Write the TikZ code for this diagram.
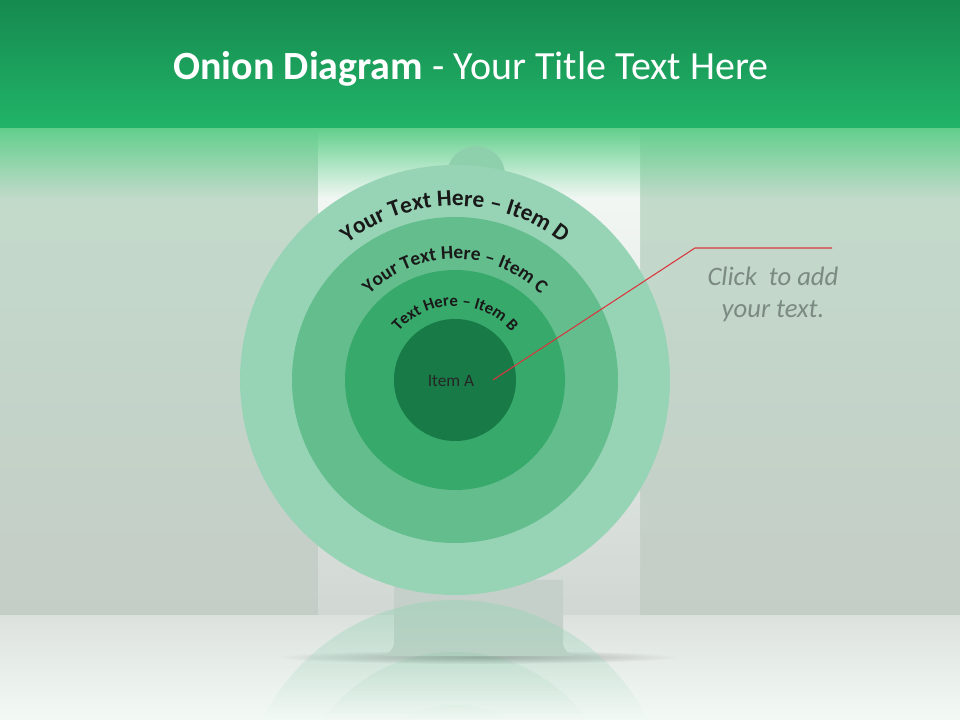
\documentclass[tikz,border=0pt]{standalone}
\usepackage{fontspec}
\setmainfont{Carlito}
\usetikzlibrary{decorations.text,fadings}

\definecolor{hdrtop}{HTML}{168A4F}
\definecolor{hdrbot}{HTML}{21B468}
\definecolor{glow}{HTML}{62CF8C}
\definecolor{paneltop}{HTML}{C2DCCB}
\definecolor{panelbot}{HTML}{C5CDC7}
\definecolor{striptop}{HTML}{F7FCF9}
\definecolor{stripbot}{HTML}{D1D7D3}
\definecolor{floortop}{HTML}{DCE1DE}
\definecolor{floorbot}{HTML}{F3FAF5}
\definecolor{standc}{HTML}{C6D0CA}
\definecolor{ringD}{HTML}{97D4B6}
\definecolor{ringC}{HTML}{63BD8D}
\definecolor{ringB}{HTML}{37A96A}
\definecolor{ringA}{HTML}{177A47}
\definecolor{knobc}{HTML}{8FD0AC}
\definecolor{leader}{HTML}{D9363E}
\definecolor{clickgray}{HTML}{7B8A82}

\tikzfading[name=glowfade, top color=transparent!0, bottom color=transparent!100]
\tikzfading[name=reflfade, top color=transparent!50, bottom color=transparent!100]
\tikzfading[name=softfade, inner color=transparent!20, outer color=transparent!100]

\tikzset{
  ring/.style={circle, inner sep=0pt, draw=none},
  arctext/.style={decorate, decoration={text along path, text align=center, text color=black!90, text={#1}}},
}

\begin{document}
\begin{tikzpicture}[x=0.75pt,y=0.75pt]
\useasboundingbox (0,0) rectangle (960,720);
% floor
\shade[top color=floortop, bottom color=floorbot] (0,0) rectangle (960,105);
% panels
\shade[top color=paneltop, bottom color=panelbot] (0,105) rectangle (318,592);
\shade[top color=paneltop, bottom color=panelbot] (640,105) rectangle (960,592);
\shade[top color=striptop, bottom color=stripbot] (318,105) rectangle (640,592);
% glow under header
\fill[glow, path fading=glowfade] (0,522) rectangle (960,592);
% header
\shade[top color=hdrtop, bottom color=hdrbot] (0,592) rectangle (960,720);
% shadow on floor
\fill[black!45, path fading=softfade] (478,63) ellipse [x radius=200, y radius=7];
% stand
\fill[standc] (394,140) -- (394,78) .. controls (394,70) and (388,66) .. (383,64) -- (574,64) .. controls (569,66) and (563,70) .. (563,78) -- (563,140) -- cycle;
% reflection
\begin{scope}
  \clip (0,0) rectangle (960,122);
  \begin{scope}\clip (455,-95) circle[radius=215];
    \fill[ringD, path fading=reflfade] (0,0) rectangle (960,122);\end{scope}
  \begin{scope}\clip (455,-95) circle[radius=163];
    \fill[ringC, path fading=reflfade, opacity=0.5] (0,0) rectangle (960,122);\end{scope}
  \begin{scope}\clip (455,-95) circle[radius=110];
    \fill[ringB, path fading=reflfade, opacity=0.4] (0,0) rectangle (960,122);\end{scope}
\end{scope}
% knob
\node[ring, fill=knobc, minimum size=43.5pt] (knob) at (476,545) {};
% rings
\node[ring, fill=ringD, minimum size=322.5pt] (D) at (455,340) {};
\node[ring, fill=ringC, minimum size=244.5pt] (C) at (455,340) {};
\node[ring, fill=ringB, minimum size=165pt] (B) at (455,340) {};
\node[ring, fill=ringA, minimum size=91.5pt] (A) at (455,340) {};
% arc texts
\path[arctext={|\bfseries\fontsize{17.5}{20}\selectfont|Your Text Here – Item D}] (281,340) arc[start angle=180, end angle=0, radius=174];
\path[arctext={|\bfseries\fontsize{14.5}{17}\selectfont|Your Text Here – Item C}] (334,340) arc[start angle=180, end angle=0, radius=121];
\path[arctext={|\bfseries\fontsize{12.5}{15}\selectfont|Text Here – Item B}] (381,340) arc[start angle=180, end angle=0, radius=74];
% centre label
\node[font=\fontsize{13}{15}\selectfont, text=black!85] (itemA) at (451,339) {Item A};
% title
\node[text=white, font=\fontsize{30}{36}\selectfont] (title) at (471,651) {\textbf{Onion Diagram} - Your Title Text Here};
% callout
\node[align=center, font=\itshape\fontsize{20}{24}\selectfont, text=clickgray] (click) at (773,426) {Click\ \ to add\\your text.};
\coordinate (pA) at (493,340);
\coordinate (p1) at (695,472);
\coordinate (p2) at (832,472);
\draw[leader, line width=0.8pt] (pA) -- (p1) -- (p2);
\end{tikzpicture}
\end{document}
